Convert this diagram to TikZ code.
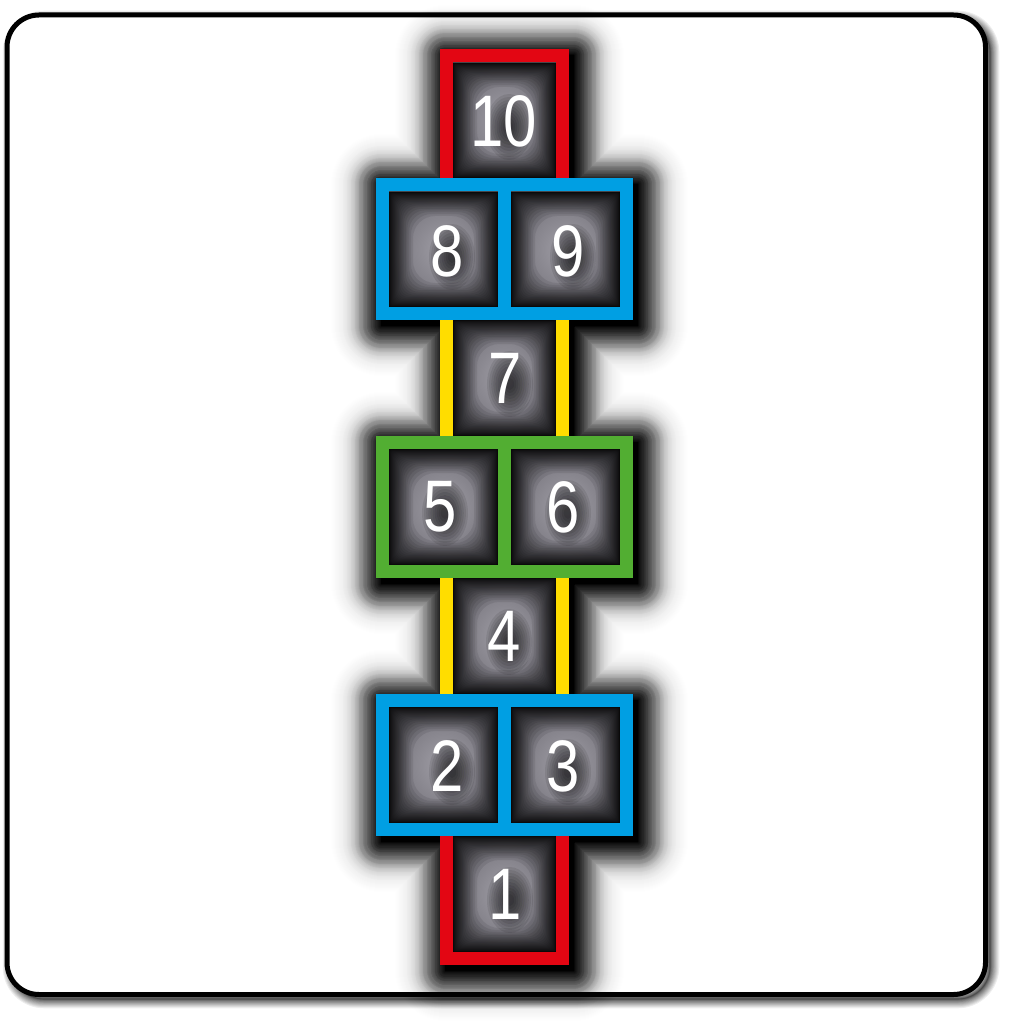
\documentclass[tikz,border=0pt]{standalone}
\usepackage{fontspec}
\setmainfont{Liberation Sans}
\definecolor{hred}{HTML}{E30613}
\definecolor{hblue}{HTML}{009FE3}
\definecolor{hyellow}{HTML}{FFDD00}
\definecolor{hgreen}{HTML}{52AE32}
\definecolor{celllight}{RGB}{160,158,166}
\definecolor{celldark}{RGB}{118,116,124}
\tikzset{
  digit/.style={inner sep=0pt, text=white, font=\fontsize{73}{73}\selectfont, xscale=0.82},
  bar/.style={line width=13pt},
}
\newcommand{\hopcell}[4]{%
  \shade[inner color=celllight, outer color=celldark] (#1,#2) rectangle (#3,#4);
  \foreach \i in {1,...,30} {
    \pgfmathsetmacro{\cdep}{24*(\i/30)^2.5}
    \pgfmathsetmacro{\crad}{0.9*\cdep+0.5}
    \fill[black, opacity=0.08, even odd rule] (#1,#2) rectangle (#3,#4)
      [rounded corners=\crad pt] (#1+\cdep,#2+\cdep) rectangle (#3-\cdep,#4-\cdep);
  }
}
\newcommand{\hopdigit}[4]{%
  \foreach \k in {1,...,10} {
    \fill[black, opacity=0.09] (#2+5,#3+6) ellipse ({2+2.1*\k} and {3+3*\k});
  }
  \node[digit] (#1) at (#2,#3) {#4};
}
\def\silpath{(440,49) -- (569,49) -- (569,178) -- (633,178) -- (633,320) -- (569,320) -- (569,436) -- (633,436) -- (633,578) -- (569,578) -- (569,694) -- (633,694) -- (633,836) -- (569,836) -- (569,965) -- (440,965) -- (440,836) -- (376,836) -- (376,694) -- (440,694) -- (440,578) -- (376,578) -- (376,436) -- (440,436) -- (440,320) -- (376,320) -- (376,178) -- (440,178) -- cycle}
\begin{document}
\begin{tikzpicture}[x=1pt,y=-1pt]
\useasboundingbox (0,0) rectangle (1012,1024);
\fill[white] (0,0) rectangle (1012,1024);
% frame shadow
\foreach \i in {1,...,16} {
  \pgfmathsetmacro{\fw}{0.5+18*(\i/16)^2}
  \draw[black, opacity=0.07, line width=\fw pt, rounded corners=32pt] (12,20) rectangle (990,999);
}
\fill[white, rounded corners=32pt] (7,15) rectangle (985.5,994.5);
\draw[black, line width=5pt, rounded corners=32pt] (7,15) rectangle (985.5,994.5);
% hopscotch blurred shadow (spread + offset + blur)
\begin{scope}[shift={(5,6)}]
  \fill[black, fill opacity=0.9] \silpath;
  \foreach \i in {1,...,80} {
    \pgfmathsetmacro{\hwid}{1.6*\i}
    \pgfmathsetmacro{\hop}{1-(1+exp(1.702*(15-0.8*\i)/15))/(1+exp(1.702*(15-0.8*(\i-1))/15))}
    \draw[black, draw opacity=\hop, line width=\hwid pt, line join=round] \silpath;
  }
\end{scope}
\fill[black] \silpath;
% cells
\hopcell{453}{63}{556}{178}
\hopcell{389}{192}{498}{307}
\hopcell{511}{192}{620}{307}
\hopcell{453}{320}{556}{436}
\hopcell{389}{449}{498}{565}
\hopcell{511}{449}{620}{565}
\hopcell{453}{578}{556}{694}
\hopcell{389}{707}{498}{823}
\hopcell{511}{707}{620}{823}
\hopcell{453}{836}{556}{952}
% coloured lines
\draw[bar, hred] (446.5,184.5) -- (446.5,55.5) -- (562.5,55.5) -- (562.5,184.5);
\draw[bar, hred] (446.5,823.5) -- (446.5,958.5) -- (562.5,958.5) -- (562.5,823.5);
\draw[bar, hyellow] (446.5,313.5) -- (446.5,442.5);
\draw[bar, hyellow] (562.5,313.5) -- (562.5,442.5);
\draw[bar, hyellow] (446.5,571.5) -- (446.5,700.5);
\draw[bar, hyellow] (562.5,571.5) -- (562.5,700.5);
\draw[bar, hblue] (382.5,184.5) rectangle (626.5,313.5);
\draw[bar, hblue] (504.5,184.5) -- (504.5,313.5);
\draw[bar, hgreen] (382.5,442.5) rectangle (626.5,571.5);
\draw[bar, hgreen] (504.5,442.5) -- (504.5,571.5);
\draw[bar, hblue] (382.5,700.5) rectangle (626.5,829.5);
\draw[bar, hblue] (504.5,700.5) -- (504.5,829.5);
% digits
\hopdigit{n10}{504}{121}{10}
\hopdigit{n8}{447}{251}{8}
\hopdigit{n9}{568}{251}{9}
\hopdigit{n7}{505}{378}{7}
\hopdigit{n5}{440}{507}{5}
\hopdigit{n6}{563}{507}{6}
\hopdigit{n4}{504}{636}{4}
\hopdigit{n2}{447}{766}{2}
\hopdigit{n3}{563}{766}{3}
\hopdigit{n1}{505}{894}{1}
\end{tikzpicture}
\end{document}
